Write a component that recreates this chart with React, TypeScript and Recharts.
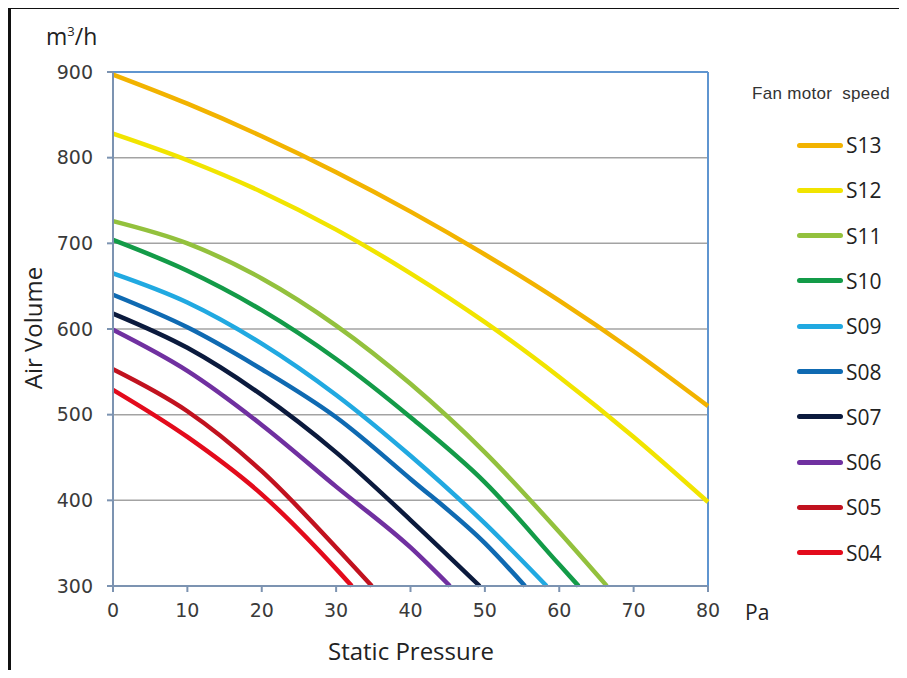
import { CartesianGrid, Legend, Line, LineChart, ReferenceLine, XAxis, YAxis } from "recharts";

// static pressure (Pa) at which each curve is sampled
const pressureTicks = [0, 10, 20, 30, 40, 50, 60, 70, 80];
const volumeTicks = [300, 400, 500, 600, 700, 800, 900];

const speeds = ["S13", "S12", "S11", "S10", "S09", "S08", "S07", "S06", "S05", "S04"];
const colors = ["#f2b300", "#f1e400", "#93c13d", "#139b48", "#21a9e1", "#0f6ab2", "#0b1a3d", "#7030a0", "#c1121f", "#e30b1c"];

// air volume (m3/h) at 0, 10, 20 ... Pa
const s13 = [897, 863, 825, 783, 737, 687, 633, 574, 510];
const s12 = [828, 797, 760, 716, 665, 608, 544, 474, 398];
const s11 = [726, 700, 659, 604, 536, 456, 363];
const s10 = [704, 668, 622, 565, 497, 421, 325];
const s09 = [665, 631, 583, 523, 452, 373];
const s08 = [640, 602, 553, 497, 425, 350];
const s07 = [618, 578, 523, 456, 377];
const s06 = [599, 551, 488, 416, 345];
const s05 = [553, 504, 434, 345];
const s04 = [529, 474, 407, 320];
const seriesValues = [s13, s12, s11, s10, s09, s08, s07, s06, s05, s04];

// pressure where the curve runs out at the bottom of the chart (300 m3/h)
const endPressure = [null, null, 66.4, 62.6, 58.3, 55.4, 49.3, 45.3, 34.8, 32.1];
const endVolume = 300;

const series = speeds.map((name, i) => {
  const data = seriesValues[i].map((v, j) => ({ p: pressureTicks[j], v }));
  const end = endPressure[i];
  if (end != null) data.push({ p: end, v: endVolume });
  return { name, color: colors[i], data };
});

const tickStyle = { fontFamily: "DejaVu Sans", fontSize: 19, fill: "#3a3a3a" };
const titleFont = "'Open Sans', sans-serif";

function SpeedLegend() {
  return (
    <div style={{ position: "relative", width: 157, height: 500 }}>
      <div
        style={{
          position: "absolute",
          left: 0,
          top: 4,
          fontFamily: "'Liberation Sans', Arial, sans-serif",
          fontSize: 17,
          letterSpacing: 0.3,
          color: "#333",
          whiteSpace: "pre",
        }}
      >
        {"Fan motor  speed"}
      </div>
      {series.map((s, i) => (
        <div
          key={s.name}
          style={{ position: "absolute", left: 45, top: 51 + i * 45.3, height: 28, display: "flex", alignItems: "center" }}
        >
          <div style={{ width: 46, height: 5, borderRadius: 3, background: s.color }} />
          <span style={{ marginLeft: 3, fontFamily: titleFont, fontSize: 21, color: "#222" }}>{s.name}</span>
        </div>
      ))}
    </div>
  );
}

export default function App() {
  return (
    <div style={{ position: "relative", width: 907, height: 678, margin: -8, overflow: "hidden", background: "#fff" }}>
      <div
        style={{
          position: "absolute",
          left: 8,
          top: 6,
          width: 920,
          height: 690,
          border: "3px solid #111",
          boxSizing: "border-box",
        }}
      />
      <LineChart
        width={907}
        height={678}
        margin={{ top: 72, right: 199, bottom: 62, left: 53 }}
        style={{ position: "absolute", left: 0, top: 0 }}
      >
        <CartesianGrid vertical={false} stroke="#a3a3a3" strokeWidth={1.5} />
        <XAxis
          type="number"
          dataKey="p"
          domain={[0, 80]}
          ticks={pressureTicks}
          height={30}
          tickSize={6}
          tickMargin={12}
          stroke="#7c93b1"
          strokeWidth={2}
          tick={tickStyle}
          allowDuplicatedCategory={false}
        />
        <YAxis
          type="number"
          dataKey="v"
          domain={[300, 900]}
          ticks={volumeTicks}
          width={60}
          tickSize={6}
          tickMargin={14}
          stroke="#7c93b1"
          strokeWidth={2}
          tick={tickStyle}
        />
        <ReferenceLine y={900} stroke="#5f95d0" strokeWidth={2} />
        <ReferenceLine x={80} stroke="#5f95d0" strokeWidth={2} />
        {series.map((s) => (
          <Line
            key={s.name}
            data={s.data}
            dataKey="v"
            name={s.name}
            type="monotone"
            stroke={s.color}
            strokeWidth={4.5}
            dot={false}
            activeDot={false}
            isAnimationActive={false}
          />
        ))}
        <Legend
          layout="horizontal"
          verticalAlign="middle"
          align="center"
          wrapperStyle={{ left: 752, top: 80, width: 157, height: 500 }}
          content={() => <SpeedLegend />}
        />
      </LineChart>
      <div style={{ position: "absolute", left: 46, top: 20, fontFamily: titleFont, fontSize: 23, color: "#222" }}>
        m<sup style={{ fontSize: 13 }}>3</sup>/h
      </div>
      <div
        style={{
          position: "absolute",
          left: 32,
          top: 328,
          transform: "translate(-50%, -50%) rotate(-90deg)",
          fontFamily: titleFont,
          fontSize: 24,
          color: "#222",
          whiteSpace: "nowrap",
        }}
      >
        Air Volume
      </div>
      <div
        style={{
          position: "absolute",
          left: 411,
          top: 650,
          transform: "translate(-50%, -50%)",
          fontFamily: titleFont,
          fontSize: 24,
          color: "#222",
          whiteSpace: "nowrap",
        }}
      >
        Static Pressure
      </div>
      <div
        style={{
          position: "absolute",
          left: 745,
          top: 612,
          transform: "translateY(-50%)",
          fontFamily: titleFont,
          fontSize: 21,
          color: "#222",
        }}
      >
        Pa
      </div>
    </div>
  );
}
